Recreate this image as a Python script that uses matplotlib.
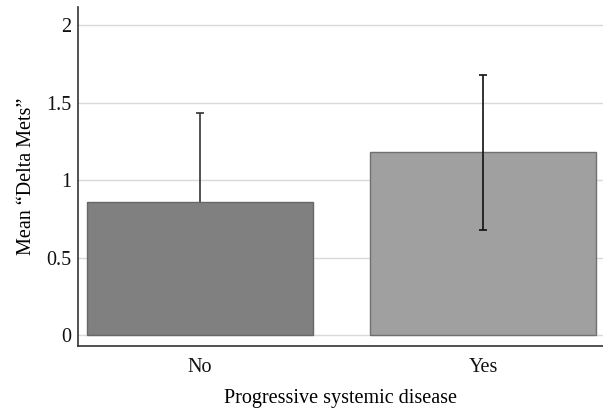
import matplotlib.pyplot as plt

# Data
categories = ['No', 'Yes']
means = [0.86, 1.18]
errors = [0.57, 0.50]
bar_colors = ['#808080', '#a0a0a0']
edge_colors = ['#686868', '#707070']

plt.rcParams['font.family'] = ['Liberation Serif', 'DejaVu Serif']

fig = plt.figure(figsize=(6.03, 4.12), dpi=100)
ax = fig.add_axes([78 / 603, (412 - 346) / 412, (603 - 78) / 603, (346 - 7) / 412])

x = range(len(categories))
ax.bar(x, means, width=0.8, color=bar_colors, edgecolor=edge_colors,
       linewidth=1, zorder=2)

# "No" whisker sits behind its bar, "Yes" whisker is drawn on top
ax.errorbar(0, means[0], yerr=errors[0], fmt='none', ecolor='#333333',
            elinewidth=1.2, capsize=3, capthick=1.2, zorder=1)
ax.errorbar(1, means[1], yerr=errors[1], fmt='none', ecolor='#111111',
            elinewidth=1.2, capsize=3, capthick=1.2, zorder=3)

ax.set_xlim(-0.431, 1.424)
ax.set_ylim(-0.07, 2.116)
ax.set_yticks([0, 0.5, 1, 1.5, 2])
ax.set_yticklabels(['0', '0.5', '1', '1.5', '2'])
ax.set_xticks(list(x))
ax.set_xticklabels(categories)
ax.tick_params(length=0, labelsize=14.5, colors='#111111')
ax.tick_params(axis='x', pad=9)
ax.tick_params(axis='y', pad=5)

ax.yaxis.grid(True, color='#d9d9d9', linewidth=1, zorder=0)
ax.set_axisbelow(True)

for s in ['top', 'right']:
    ax.spines[s].set_visible(False)
for s in ['left', 'bottom']:
    ax.spines[s].set_color('#333333')
    ax.spines[s].set_linewidth(1.2)

ax.set_xlabel('Progressive systemic disease', fontsize=14.5, labelpad=8)
ax.set_ylabel('Mean \u201cDelta Mets\u201d', fontsize=14.5, labelpad=7)

fig.savefig('out.png', dpi=100)
